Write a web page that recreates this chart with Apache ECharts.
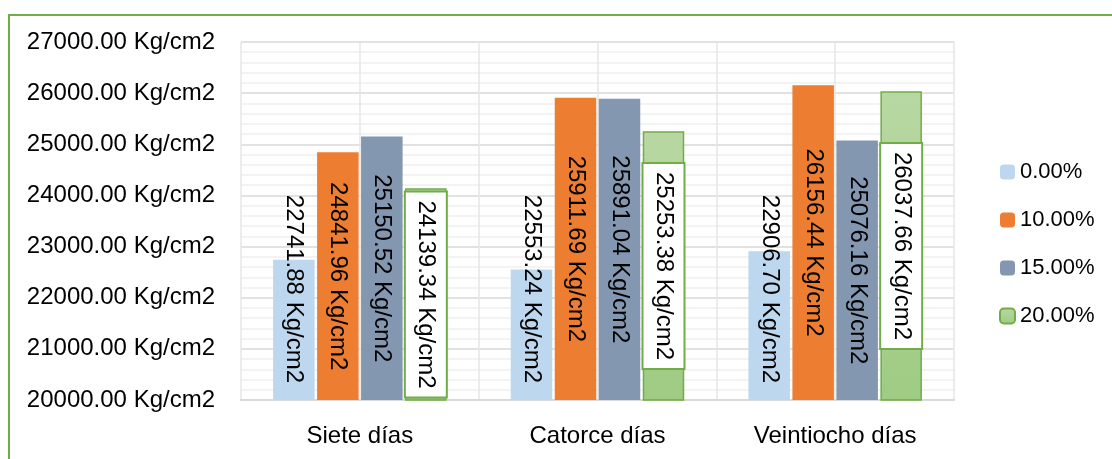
<!DOCTYPE html>
<html>
<head>
<meta charset="utf-8">
<script src="https://cdn.jsdelivr.net/npm/echarts@6/dist/echarts.min.js"></script>
<style>
  html, body { margin: 0; padding: 0; background: #fff; }
  #chart { width: 1112px; height: 459px; }
</style>
</head>
<body>
<div id="chart"></div>
<script>
// datos
const categories = ['Siete días', 'Catorce días', 'Veintiocho días'];
const seriesNames = ['0.00%', '10.00%', '15.00%', '20.00%'];
const values0 = [22741.88, 22553.24, 22906.70];
const values10 = [24841.96, 25911.69, 26156.44];
const values15 = [25150.52, 25891.04, 25076.16];
const values20 = [24139.34, 25253.38, 26037.66];
const yMin = 20000, yMax = 27000, yStep = 1000;

const FONT = 'Liberation Sans';
const fmt = v => v.toFixed(2) + ' Kg/cm2';

const chart = echarts.init(document.getElementById('chart'));

const baseLabel = {
  show: true,
  rotate: -90,
  color: '#000',
  fontFamily: FONT,
  fontSize: 24,
  formatter: p => fmt(p.value)
};

const option = {
  animation: false,
  textStyle: {fontFamily: FONT},
  // marco verde del gráfico
  graphic: [{
    type: 'polyline',
    shape: {points: [[9, 459], [9, 15], [1112, 15]]},
    style: {stroke: '#70AD47', lineWidth: 2, fill: null},
    silent: true
  }],
  legend: {
    orient: 'vertical',
    left: 994,
    top: 156,
    itemWidth: 15,
    itemHeight: 15,
    itemGap: 26,
    textStyle: {fontFamily: FONT, fontSize: 22, color: '#000'},
    data: seriesNames
  },
  grid: {left: 241, right: 158, top: 42, bottom: 59},
  xAxis: [{
    type: 'category',
    data: categories,
    axisLine: {show: true, lineStyle: {color: '#d9d9d9', width: 2}},
    axisTick: {show: false},
    axisLabel: {color: '#000', fontFamily: FONT, fontSize: 24, margin: 24},
    splitLine: {show: false}
  }, {
    // solo para las líneas verticales cada media categoría
    type: 'category',
    data: ['', '', '', '', '', ''],
    position: 'bottom',
    axisLine: {show: false},
    axisTick: {show: false},
    axisLabel: {show: false},
    splitLine: {show: true, lineStyle: {color: '#e6e6e6', width: 1.5}}
  }],
  yAxis: {
    type: 'value',
    min: yMin,
    max: yMax,
    interval: yStep,
    axisLine: {show: false},
    axisTick: {show: false},
    axisLabel: {color: '#000', fontFamily: FONT, fontSize: 24, margin: 26, formatter: fmt},
    splitLine: {lineStyle: {color: '#d9d9d9', width: 1.5}},
    minorTick: {show: false, splitNumber: 5},
    minorSplitLine: {show: true, lineStyle: {color: '#efefef', width: 1.5}}
  },
  series: [{
    name: seriesNames[0],
    type: 'bar',
    data: values0,
    barCategoryGap: '27%',
    barGap: '6%',
    itemStyle: {color: '#BDD7EE'},
    label: Object.assign({}, baseLabel, {
      position: 'insideBottom', distance: 17, align: 'right', verticalAlign: 'middle'
    })
  }, {
    name: seriesNames[1],
    type: 'bar',
    data: values10,
    itemStyle: {color: '#ED7D31'},
    label: Object.assign({}, baseLabel, {position: 'inside'})
  }, {
    name: seriesNames[2],
    type: 'bar',
    data: values15,
    itemStyle: {color: '#8497B0'},
    label: Object.assign({}, baseLabel, {position: 'inside'})
  }, {
    name: seriesNames[3],
    type: 'bar',
    data: values20,
    itemStyle: {
      color: new echarts.graphic.LinearGradient(0, 0, 0, 1, [
        {offset: 0, color: '#B8D8A3'},
        {offset: 1, color: '#9FCB83'}
      ]),
      borderColor: '#70AD47',
      borderWidth: 1.5
    },
    label: Object.assign({}, baseLabel, {
      position: 'inside',
      backgroundColor: '#fff',
      borderColor: '#70AD47',
      borderWidth: 2,
      lineHeight: 24,
      padding: [8, 8, 8, 8]
    })
  }]
};

chart.setOption(option);
</script>
</body>
</html>
